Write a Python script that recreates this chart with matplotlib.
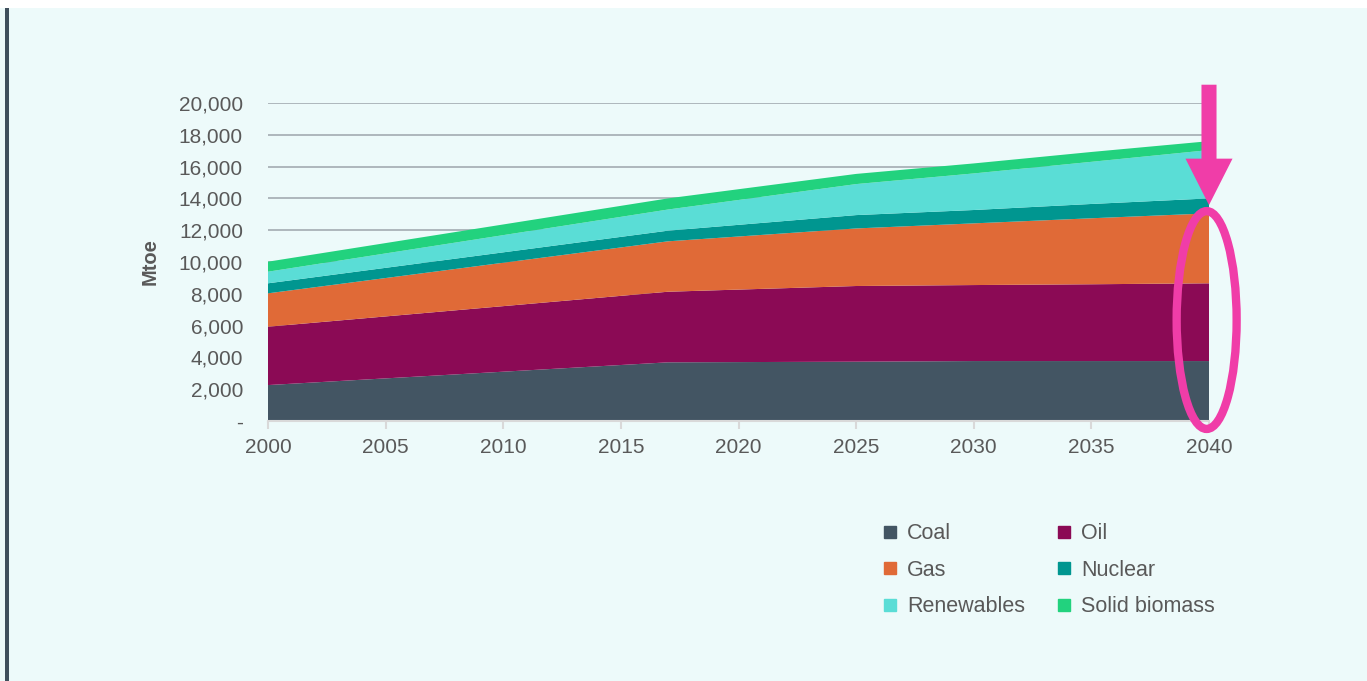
import matplotlib
matplotlib.use("Agg")
import matplotlib.pyplot as plt
from matplotlib.patches import Rectangle, Ellipse, Polygon
from matplotlib.lines import Line2D

plt.rcParams['font.family'] = ['Liberation Sans', 'DejaVu Sans']

years = [2000, 2017, 2025, 2030, 2035, 2040]
coal = [2260, 3690, 3730, 3770, 3770, 3770]
oil = [3670, 4440, 4760, 4780, 4830, 4890]
gas = [2100, 3170, 3620, 3880, 4150, 4400]
nuclear = [630, 670, 840, 840, 900, 940]
renewables = [730, 1330, 1950, 2300, 2650, 3040]
solid_biomass = [630, 700, 640, 630, 620, 560]

labels = ['Coal', 'Oil', 'Gas', 'Nuclear', 'Renewables', 'Solid biomass']
colors = ['#435563', '#8B0A55', '#E06A37', '#009690', '#5ADDD6', '#22D27E']
yticks = [0, 2000, 4000, 6000, 8000, 10000, 12000, 14000, 16000, 18000, 20000]
ytick_labels = ['-', '2,000', '4,000', '6,000', '8,000', '10,000', '12,000',
                '14,000', '16,000', '18,000', '20,000']
xticks = [2000, 2005, 2010, 2015, 2020, 2025, 2030, 2035, 2040]

W, H = 1367, 681
fig = plt.figure(figsize=(W / 100, H / 100), dpi=100)
fig.patch.set_facecolor('white')
bg = '#EDFAFA'
fig.add_artist(Rectangle((0, 0), 1, 1 - 8 / H, transform=fig.transFigure,
                         facecolor=bg, edgecolor='none', zorder=-10))
fig.add_artist(Rectangle((5 / W, 0), 4 / W, 1 - 8 / H, transform=fig.transFigure,
                         facecolor='#3F4F5C', edgecolor='none', zorder=-9))

x0, x1 = 268, 1209
y0, y1 = 421, 103
ax = fig.add_axes([x0 / W, 1 - y0 / H, (x1 - x0) / W, (y0 - y1) / H])
ax.set_facecolor('none')

series = [coal, oil, gas, nuclear, renewables, solid_biomass]
ax.stackplot(years, *series, colors=colors, labels=labels, linewidth=0, zorder=3)

ax.set_xlim(2000, 2040)
ax.set_ylim(0, 20000)
ax.set_yticks(yticks)
ax.set_yticklabels(ytick_labels)
ax.set_xticks(xticks)
for t in yticks[1:]:
    ax.axhline(t, color='#A3ABB1', lw=1.2, zorder=1)

for s in ['left', 'right', 'top']:
    ax.spines[s].set_visible(False)
ax.spines['bottom'].set_color('#D9D9D9')
ax.spines['bottom'].set_linewidth(1.5)
ax.spines['bottom'].set_zorder(4)
ax.tick_params(axis='y', length=0, pad=18, labelsize=15, labelcolor='#595959')
ax.tick_params(axis='x', length=6, width=1.5, color='#D9D9D9', pad=6,
               labelsize=15, labelcolor='#595959')
ax.set_ylabel('Mtoe', fontsize=14.5, fontweight='bold', color='#595959')
ax.yaxis.set_label_coords((160 - x0) / (x1 - x0), 0.5)

# Legend (row-major order via column fill)
handles = [Line2D([], [], marker='s', linestyle='none', markersize=8.5,
                  markerfacecolor=c, markeredgecolor=c) for c in colors]
order = [0, 2, 4, 1, 3, 5]
leg = fig.legend([handles[i] for i in order], [labels[i] for i in order], ncol=2,
                 loc='upper left', bbox_to_anchor=(860 / W, 1 - 504 / H),
                 frameon=False, fontsize=15.5, labelcolor='#595959',
                 handletextpad=0.3, columnspacing=1.3, labelspacing=0.72,
                 handlelength=1.0)

# Annotations: ellipse and arrow
pink = '#F03DA8'
ell = Ellipse((2039.9, 6350), 2.55, 13700, fill=False, edgecolor=pink, lw=6,
              clip_on=False, zorder=6)
ax.add_patch(ell)
arrow = Polygon([(2039.68, 21150), (2040.32, 21150), (2040.32, 16500),
                 (2041.0, 16500), (2040.0, 13580), (2039.0, 16500),
                 (2039.68, 16500)], closed=True, facecolor=pink,
                edgecolor='none', clip_on=False, zorder=6)
ax.add_patch(arrow)

fig.savefig('out.png', dpi=100, facecolor=fig.get_facecolor())
